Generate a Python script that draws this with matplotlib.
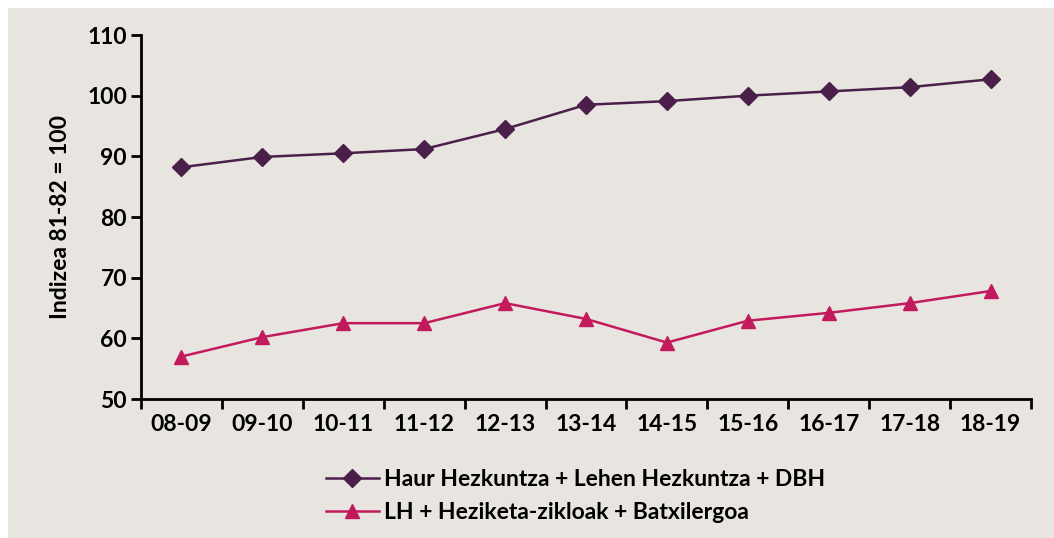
import matplotlib
matplotlib.use("Agg")
import matplotlib.pyplot as plt
from matplotlib.patches import Rectangle
import numpy as np

# data
years = ["08-09", "09-10", "10-11", "11-12", "12-13", "13-14",
         "14-15", "15-16", "16-17", "17-18", "18-19"]
haur_lehen_dbh = [88.2, 89.9, 90.5, 91.2, 94.5, 98.5, 99.1, 100.0, 100.7, 101.4, 102.7]
lh_hezik_batx = [57.0, 60.2, 62.5, 62.5, 65.8, 63.2, 59.3, 62.9, 64.2, 65.8, 67.8]
legend_labels = ["Haur Hezkuntza + Lehen Hezkuntza + DBH",
                 "LH + Heziketa-zikloak + Batxilergoa"]

plt.rcParams['font.family'] = ['Lato', 'DejaVu Sans']
plt.rcParams['font.weight'] = 'bold'

bg = "#e8e5e1"
purple = "#4a1f4a"
magenta = "#c21a5c"
fs = 16.5

fig = plt.figure(figsize=(10.54, 5.38), dpi=100, facecolor="white")
# grey panel with a thin white margin on top and left
fig.patches.append(Rectangle((8/1054, 0), 1, 1 - 8/538, transform=fig.transFigure,
                             facecolor=bg, edgecolor="none", zorder=-10))

ax = fig.add_axes([141/1054, 1 - 399/538, 890/1054, 364/538])
ax.set_facecolor(bg)

x = np.arange(len(years))
ax.plot(x, haur_lehen_dbh, color=purple, lw=1.8, marker="D", ms=9.5,
        label=legend_labels[0], clip_on=False)
ax.plot(x, lh_hezik_batx, color=magenta, lw=1.8, marker="^", ms=10.5,
        label=legend_labels[1], clip_on=False)

ax.set_xlim(-0.5, len(years) - 0.5)
ax.set_ylim(50, 110)
ax.set_yticks(range(50, 111, 10))
ax.set_xticks(x)
ax.set_xticklabels(years)
ax.set_xticks(np.arange(-0.5, len(years)), minor=True)
ax.tick_params(axis="x", which="major", length=0, pad=11, labelsize=fs)
ax.tick_params(axis="x", which="minor", length=7, width=2, direction="out")
ax.tick_params(axis="y", length=7, width=2, direction="out", labelsize=fs, pad=3)

for s in ["top", "right"]:
    ax.spines[s].set_visible(False)
for s in ["left", "bottom"]:
    ax.spines[s].set_linewidth(2)

ax.set_ylabel("Indizea 81-82 = 100", fontsize=fs, fontweight="bold", labelpad=12)

leg = fig.legend(loc="upper left", bbox_to_anchor=(326/1054, 1 - 469/538),
                 frameon=False, fontsize=fs, handlelength=2.3, handletextpad=0.25,
                 labelspacing=0.52, borderpad=0, borderaxespad=0)

fig.savefig("out.png", dpi=100, facecolor="white")
